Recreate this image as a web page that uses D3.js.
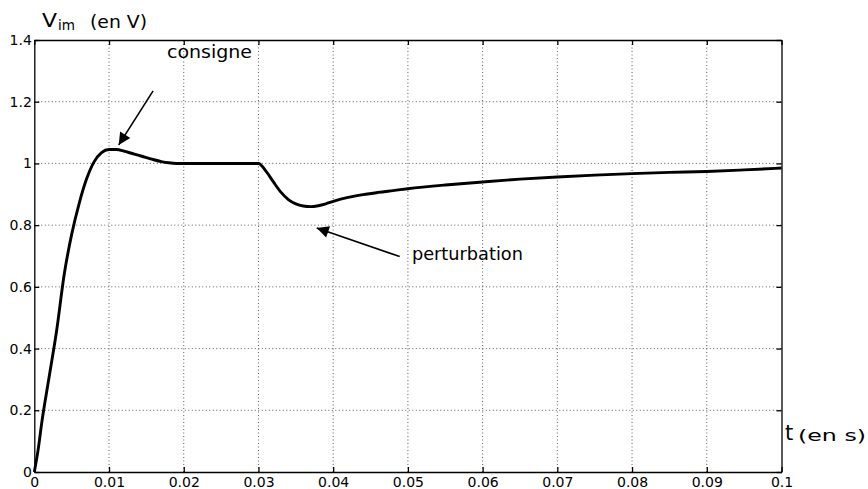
<!DOCTYPE html>
<html>
<head>
<meta charset="utf-8">
<script src="https://cdn.jsdelivr.net/npm/d3@7"></script>
<style>
  body { margin: 0; background: #fff; }
  text { font-family: "DejaVu Sans", "Liberation Sans", Arial, sans-serif; fill: #000; }
</style>
</head>
<body>
<svg id="chart" width="868" height="489"></svg>
<script>
// time (s) and Vim (V)
var tVals = [0, 0.0005, 0.001, 0.002, 0.003, 0.004, 0.005, 0.006, 0.007, 0.008, 0.009,
	0.010, 0.011, 0.012, 0.013, 0.014, 0.015, 0.016, 0.017, 0.018, 0.019, 0.020, 0.030,
	0.031, 0.032, 0.033, 0.034, 0.035, 0.036, 0.037, 0.038, 0.039, 0.040, 0.042, 0.044,
	0.046, 0.048, 0.050, 0.055, 0.060, 0.065, 0.070, 0.075, 0.080, 0.085, 0.090, 0.095, 0.100];
var vVals = [0, 0.07, 0.16, 0.31, 0.46, 0.64, 0.77, 0.87, 0.95, 1.005, 1.035,
	1.045, 1.045, 1.04, 1.033, 1.026, 1.019, 1.012, 1.006, 1.002, 1.0, 1.0, 1.0,
	0.975, 0.94, 0.907, 0.883, 0.869, 0.862, 0.860, 0.863, 0.869, 0.877, 0.89, 0.899,
	0.906, 0.912, 0.918, 0.93, 0.94, 0.949, 0.956, 0.962, 0.967, 0.971, 0.974, 0.979, 0.985];

var xTicks = [0, 0.01, 0.02, 0.03, 0.04, 0.05, 0.06, 0.07, 0.08, 0.09, 0.1];
var yTicks = [0, 0.2, 0.4, 0.6, 0.8, 1, 1.2, 1.4];

// annotations: [label, text t,v, arrow tail t,v, arrow tip t,v, text width]
var notes = [
	["consigne", 0.01776, 1.341, 0.0159, 1.235, 0.0113, 1.06, 85],
	["perturbation", 0.05054, 0.687, 0.0489, 0.698, 0.0378, 0.791, 111]
];

var svg = d3.select('#chart');
var margin = {left: 34.3, right: 86.5, top: 40, bottom: 17};
var W = +svg.attr('width'), H = +svg.attr('height');

var x = d3.scaleLinear().domain([0, 0.1]).range([margin.left, W - margin.right]);
var y = d3.scaleLinear().domain([0, 1.4]).range([H - margin.bottom, margin.top]);

var fmt = function(d){ return d === 0 ? '0' : String(d); };

// grid
var grid = svg.append('g').attr('stroke', '#333').attr('stroke-width', 0.8)
	.attr('stroke-dasharray', '1,2.5');
grid.selectAll('.gx').data(xTicks.slice(1, -1)).enter().append('line')
	.attr('x1', function(d){ return x(d); }).attr('x2', function(d){ return x(d); })
	.attr('y1', y(0)).attr('y2', y(1.4));
grid.selectAll('.gy').data(yTicks.slice(1, -1)).enter().append('line')
	.attr('y1', function(d){ return y(d); }).attr('y2', function(d){ return y(d); })
	.attr('x1', x(0)).attr('x2', x(0.1));

// axes, ticks pointing inside like matlab
var axBottom = svg.append('g').attr('transform', 'translate(0,' + y(0) + ')')
	.call(d3.axisBottom(x).tickValues(xTicks).tickFormat(fmt).tickSizeInner(-5).tickSizeOuter(0).tickPadding(5));
var axTop = svg.append('g').attr('transform', 'translate(0,' + y(1.4) + ')')
	.call(d3.axisTop(x).tickValues(xTicks).tickFormat('').tickSizeInner(-5).tickSizeOuter(0));
var axLeft = svg.append('g').attr('transform', 'translate(' + x(0) + ',0)')
	.call(d3.axisLeft(y).tickValues(yTicks).tickFormat(fmt).tickSizeInner(-5).tickSizeOuter(0).tickPadding(2.5));
var axRight = svg.append('g').attr('transform', 'translate(' + x(0.1) + ',0)')
	.call(d3.axisRight(y).tickValues(yTicks).tickFormat('').tickSizeInner(-5).tickSizeOuter(0));

[axBottom, axTop, axLeft, axRight].forEach(function(g){
	g.attr('font-size', 14);
	g.selectAll('.domain').attr('stroke', '#000').attr('stroke-width', 1.3);
	g.selectAll('.tick line').attr('stroke', '#000').attr('stroke-width', 1.3);
	g.selectAll('text').style('font-size', '14px');
});
axBottom.selectAll('text').attr('dy', '0.72em');

// the trace
var line = d3.line()
	.x(function(d, i){ return x(tVals[i]); })
	.y(function(d){ return y(d); })
	.curve(d3.curveMonotoneX);
svg.append('path').datum(vVals)
	.attr('fill', 'none').attr('stroke', '#000').attr('stroke-width', 2.9)
	.attr('stroke-linejoin', 'round')
	.attr('d', line);

// arrows + labels
svg.append('defs').append('marker')
	.attr('id', 'head').attr('viewBox', '0 0 10 10')
	.attr('refX', 10).attr('refY', 5)
	.attr('markerWidth', 17).attr('markerHeight', 12)
	.attr('markerUnits', 'userSpaceOnUse')
	.attr('orient', 'auto')
	.append('path').attr('d', 'M0,0 L10,5 L0,10 z').attr('fill', '#000');

notes.forEach(function(n){
	svg.append('text').attr('x', x(n[1])).attr('y', y(n[2]))
		.attr('textLength', n[7]).attr('lengthAdjust', 'spacingAndGlyphs')
		.style('font-size', '18px').text(n[0]);
	svg.append('line')
		.attr('x1', x(n[3])).attr('y1', y(n[4]))
		.attr('x2', x(n[5])).attr('y2', y(n[6]))
		.attr('stroke', '#000').attr('stroke-width', 1.6)
		.attr('marker-end', 'url(#head)');
});

// axis titles
svg.append('text').attr('x', 42).attr('y', 27)
	.attr('textLength', 15).attr('lengthAdjust', 'spacingAndGlyphs')
	.style('font-size', '20px').text('V');
svg.append('text').attr('x', 58).attr('y', 30)
	.attr('textLength', 17).attr('lengthAdjust', 'spacingAndGlyphs')
	.style('font-size', '14.5px').text('im');
svg.append('text').attr('x', 90).attr('y', 27.5)
	.attr('textLength', 57).attr('lengthAdjust', 'spacingAndGlyphs')
	.style('font-size', '18px').text('(en V)');

svg.append('text').attr('x', 785).attr('y', 440)
	.style('font-size', '21px').text('t');
svg.append('text').attr('x', 798).attr('y', 441)
	.attr('textLength', 68).attr('lengthAdjust', 'spacingAndGlyphs')
	.style('font-size', '15px').text('(en s)');
</script>
</body>
</html>
